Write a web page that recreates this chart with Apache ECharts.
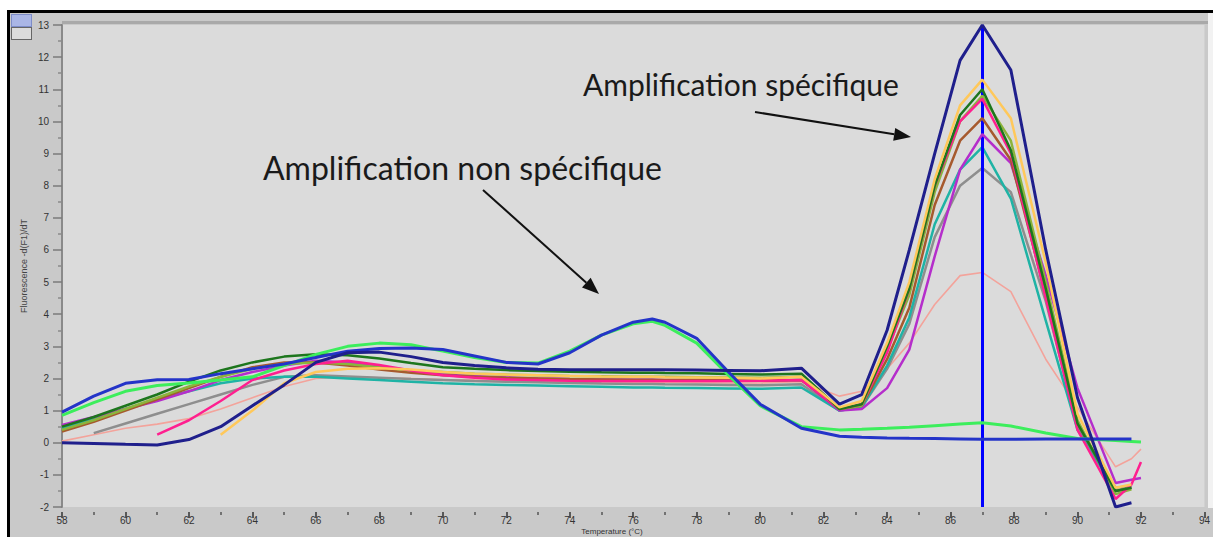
<!DOCTYPE html>
<html>
<head>
<meta charset="utf-8">
<title>Courbes de fusion</title>
<script src="https://cdn.jsdelivr.net/npm/echarts@6/dist/echarts.min.js"></script>
<style>
  html, body { margin: 0; padding: 0; background: #ffffff; }
  #frame {
    position: absolute; left: 7px; top: 10px; width: 1206px; height: 527px;
    box-sizing: border-box; border-top: 3px solid #000; border-left: 3px solid #000;
    background: #c9c9c9;
  }
  #rightGap { position: absolute; left: 1208px; top: 13px; width: 5px; height: 495px; background: #f2f2f2; }
  #topRule { position: absolute; left: 62px; top: 21px; width: 1146px; height: 3px; background: #a9a9a9; }
  #tool1 { position: absolute; left: 11px; top: 14px; width: 19px; height: 11px; background: #aab6e6; border: 1px solid #7d8cc8; }
  #tool2 { position: absolute; left: 11px; top: 27px; width: 19px; height: 11px; background: #dcdcdc; border: 1px solid #666; }
  #chart { position: absolute; left: 0; top: 0; width: 1213px; height: 537px; }
</style>
</head>
<body>
<div id="frame"></div>
<div id="rightGap"></div>
<div id="topRule"></div>
<div id="tool1"></div>
<div id="tool2"></div>
<div id="chart"></div>
<script>
// Température (°C) de chaque mesure de la courbe de fusion
const temps = [58, 59, 60, 61, 62, 63, 64, 65, 66, 67, 68, 69, 70, 71, 72, 73, 74, 75, 76, 76.6, 77, 78, 79, 80,
               81.3, 82.5, 83.2, 84, 84.7, 85.5, 86.3, 87, 87.9, 89, 90, 91.2, 91.7, 92];

// -d(F1)/dT pour chaque échantillon
const navy = [0.00, -0.02, -0.05, -0.07, 0.10, 0.50, 1.15, 1.80, 2.50, 2.80, 2.82, 2.68, 2.50, 2.40, 2.33, 2.29, 2.27, 2.27, 2.27, 2.27, 2.27, 2.26, 2.25, 2.24,
              2.32, 1.20, 1.50, 3.50, 6.00, 9.00, 11.90, 13.00, 11.60, 6.00, 1.40, -2.00, -1.87, null];
const blue = [0.95, 1.45, 1.85, 1.96, 1.97, 2.15, 2.30, 2.45, 2.65, 2.85, 2.93, 2.95, 2.90, 2.70, 2.50, 2.45, 2.80, 3.35, 3.75, 3.85, 3.75, 3.25, 2.20, 1.20,
              0.45, 0.20, 0.17, 0.15, 0.14, 0.13, 0.12, 0.11, 0.11, 0.12, 0.12, 0.12, 0.12, null];
const green = [0.85, 1.25, 1.60, 1.78, 1.86, 1.95, 2.05, 2.40, 2.75, 3.00, 3.10, 3.05, 2.85, 2.65, 2.50, 2.48, 2.85, 3.35, 3.70, 3.78, 3.65, 3.10, 2.10, 1.15,
               0.50, 0.40, 0.42, 0.45, 0.48, 0.53, 0.58, 0.62, 0.52, 0.30, 0.13, 0.07, 0.04, 0.02];
const yellow = [null, null, null, null, null, 0.25, 1.00, 1.85, 2.20, 2.30, 2.32, 2.28, 2.20, 2.15, 2.12, 2.10, 2.08, 2.06, 2.05, 2.05, 2.04, 2.03, 2.02, 2.00,
                2.05, 1.10, 1.30, 3.10, 5.00, 8.20, 10.50, 11.30, 10.10, 5.60, 0.90, -1.40, -1.30, null];
const darkGreen = [0.50, 0.80, 1.15, 1.50, 1.90, 2.25, 2.50, 2.68, 2.75, 2.72, 2.62, 2.48, 2.35, 2.30, 2.26, 2.23, 2.21, 2.19, 2.18, 2.18, 2.17, 2.16, 2.14, 2.12,
                   2.15, 1.05, 1.20, 3.00, 4.80, 8.00, 10.20, 11.00, 9.10, 4.80, 0.60, -1.50, -1.40, null];
const olive = [0.40, 0.70, 1.05, 1.40, 1.75, 2.05, 2.30, 2.45, 2.50, 2.45, 2.35, 2.25, 2.20, 2.15, 2.12, 2.10, 2.08, 2.07, 2.05, 2.05, 2.05, 2.04, 2.03, 2.02,
               2.05, 1.05, 1.15, 2.90, 4.60, 7.80, 10.00, 10.80, 9.40, 5.00, 0.70, -1.60, -1.45, null];
const hotPink = [null, null, null, 0.25, 0.70, 1.30, 1.95, 2.25, 2.45, 2.55, 2.42, 2.25, 2.10, 2.02, 1.97, 1.95, 1.93, 1.92, 1.92, 1.92, 1.92, 1.92, 1.92, 1.93,
                 1.95, 1.05, 1.20, 2.80, 4.80, 8.00, 10.00, 10.70, 9.00, 4.50, 0.40, -1.75, -1.30, -0.60];
const brown = [0.35, 0.65, 1.00, 1.35, 1.70, 2.05, 2.35, 2.50, 2.50, 2.40, 2.28, 2.18, 2.10, 2.05, 2.02, 2.00, 1.98, 1.97, 1.96, 1.96, 1.95, 1.95, 1.94, 1.93,
               1.95, 1.05, 1.15, 2.60, 4.20, 7.40, 9.40, 10.10, 8.80, 4.60, 0.60, -1.50, -1.40, null];
const purple = [0.55, 0.80, 1.05, 1.30, 1.60, 1.95, 2.20, 2.40, 2.55, 2.50, 2.38, 2.25, 2.15, 2.08, 2.03, 2.00, 1.98, 1.97, 1.96, 1.96, 1.95, 1.95, 1.94, 1.93,
                1.95, 1.00, 1.05, 1.70, 2.90, 5.80, 8.50, 9.60, 8.70, 5.20, 1.70, -1.25, -1.15, -1.10];
const teal = [0.45, 0.75, 1.05, 1.35, 1.60, 1.85, 2.00, 2.05, 2.05, 2.00, 1.95, 1.90, 1.85, 1.82, 1.80, 1.78, 1.76, 1.74, 1.72, 1.72, 1.71, 1.70, 1.69, 1.68,
              1.72, 1.00, 1.10, 2.40, 3.90, 6.80, 8.50, 9.20, 7.60, 3.80, 0.40, -1.50, -1.40, null];
const gray = [null, 0.30, 0.60, 0.90, 1.20, 1.50, 1.80, 2.05, 2.10, 2.06, 2.02, 1.98, 1.95, 1.92, 1.90, 1.88, 1.86, 1.84, 1.83, 1.83, 1.82, 1.81, 1.80, 1.79,
              1.82, 1.00, 1.10, 2.30, 3.70, 6.40, 8.00, 8.55, 7.80, 4.40, 0.50, -1.40, -1.35, null];
const salmon = [0.05, 0.25, 0.45, 0.58, 0.75, 1.05, 1.40, 1.75, 2.00, 2.05, 2.02, 2.00, 1.97, 1.95, 1.93, 1.92, 1.90, 1.89, 1.88, 1.88, 1.88, 1.87, 1.86, 1.86,
                1.90, 1.45, 1.60, 2.30, 3.10, 4.30, 5.20, 5.30, 4.70, 2.60, 1.10, -0.75, -0.50, -0.20];

// Curseur de température sur le pic principal
const cursorTemp = 87;

// Graduations des axes
const xTicks = { min: 58, max: 94, step: 2 };
const yTicks = { min: -2, max: 13, step: 1 };

// Tracé : ordre de dessin (du fond vers le dessus), couleur, épaisseur
const traces = [
  { data: salmon,    color: '#f3a39b', width: 1.6 },
  { data: gray,      color: '#8e8e8e', width: 2.5 },
  { data: teal,      color: '#1fb3a5', width: 2.5 },
  { data: purple,    color: '#b52ecb', width: 2.5 },
  { data: brown,     color: '#a65a2e', width: 2.5 },
  { data: olive,     color: '#8cb43c', width: 2.5 },
  { data: hotPink,   color: '#ff1f8f', width: 2.5 },
  { data: darkGreen, color: '#1d761d', width: 2.5 },
  { data: yellow,    color: '#ffc85a', width: 2.5 },
  { data: green,     color: '#3cee5c', width: 3 },
  { data: blue,      color: '#2434c8', width: 3 },
  { data: navy,      color: '#1f1f8c', width: 3 }
];

const series = traces.map(function (tr, k) {
  const s = {
    type: 'line',
    data: temps.map(function (t, i) { return [t, tr.data[i]]; }),
    showSymbol: false,
    symbol: 'none',
    smooth: false,
    connectNulls: false,
    lineStyle: { color: tr.color, width: tr.width },
    z: 2 + k,
    silent: true,
    animation: false
  };
  if (k === traces.length - 1) {
    s.markLine = {
      silent: true,
      symbol: 'none',
      label: { show: false },
      lineStyle: { color: '#0000ff', width: 3, type: 'solid' },
      data: [{ xAxis: cursorTemp }],
      animation: false
    };
  }
  return s;
});

// Flèche d'annotation : trait + pointe pleine
function arrow(x1, y1, x2, y2) {
  const dx = x2 - x1, dy = y2 - y1, len = Math.sqrt(dx * dx + dy * dy);
  const ux = dx / len, uy = dy / len, nx = -uy, ny = ux;
  const head = 17, half = 6.5;
  const bx = x2 - ux * head, by = y2 - uy * head;
  return [
    { type: 'line', z: 50, shape: { x1: x1, y1: y1, x2: bx, y2: by }, style: { stroke: '#111', lineWidth: 2 } },
    { type: 'polygon', z: 50, shape: { points: [[x2, y2], [bx + nx * half, by + ny * half], [bx - nx * half, by - ny * half]] }, style: { fill: '#111' } }
  ];
}

const annotFont = 'Lato, "Open Sans", sans-serif';
const tickFont = '"Liberation Sans", Arial, sans-serif';

const chart = echarts.init(document.getElementById('chart'), null, { renderer: 'svg' });
chart.setOption({
  backgroundColor: 'transparent',
  animation: false,
  grid: { left: 62, right: 7, top: 25, bottom: 30, show: true, backgroundColor: '#dbdbdb', borderWidth: 0 },
  xAxis: {
    type: 'value', min: xTicks.min, max: xTicks.max, interval: xTicks.step,
    position: 'bottom',
    offset: 5,
    axisLine: { show: false, onZero: false },
    axisTick: { show: true, length: 6, lineStyle: { color: '#333', width: 1.5 } },
    minorTick: { show: true, splitNumber: 2, length: 3, lineStyle: { color: '#555', width: 1.5 } },
    splitLine: { show: false },
    axisLabel: { fontSize: 10, color: '#333', margin: 3, fontFamily: tickFont }
  },
  yAxis: {
    type: 'value', min: yTicks.min, max: yTicks.max, interval: yTicks.step,
    axisLine: { show: true, onZero: false, lineStyle: { color: '#8a8a8a', width: 2 } },
    axisTick: { show: true, length: 9, lineStyle: { color: '#7a7a7a', width: 1.5 } },
    minorTick: { show: true, splitNumber: 2, length: 4, lineStyle: { color: '#8a8a8a', width: 1.5 } },
    splitLine: { show: false },
    axisLabel: { fontSize: 10, color: '#333', margin: 13, fontFamily: tickFont }
  },
  series: series,
  graphic: [
    { type: 'text', z: 40, x: 24, y: 266, rotation: Math.PI / 2,
      style: { text: 'Fluorescence -d(F1)/dT', fontSize: 9, fill: '#444', align: 'center', verticalAlign: 'middle', fontFamily: tickFont } },
    { type: 'text', z: 40, x: 612, y: 531,
      style: { text: 'Temperature (°C)', fontSize: 8, fill: '#333', align: 'center', verticalAlign: 'middle', fontFamily: tickFont } },
    { type: 'text', z: 50, x: 263, y: 167,
      style: { text: 'Amplification non spécifique', fontSize: 32, fill: '#1a1a1a', align: 'left', verticalAlign: 'middle', fontFamily: annotFont } },
    { type: 'text', z: 50, x: 583, y: 84,
      style: { text: 'Amplification spécifique', fontSize: 30, fill: '#1a1a1a', align: 'left', verticalAlign: 'middle', fontFamily: annotFont } }
  ].concat(arrow(483, 190, 599, 294)).concat(arrow(755, 112, 911, 137))
});
</script>
</body>
</html>
